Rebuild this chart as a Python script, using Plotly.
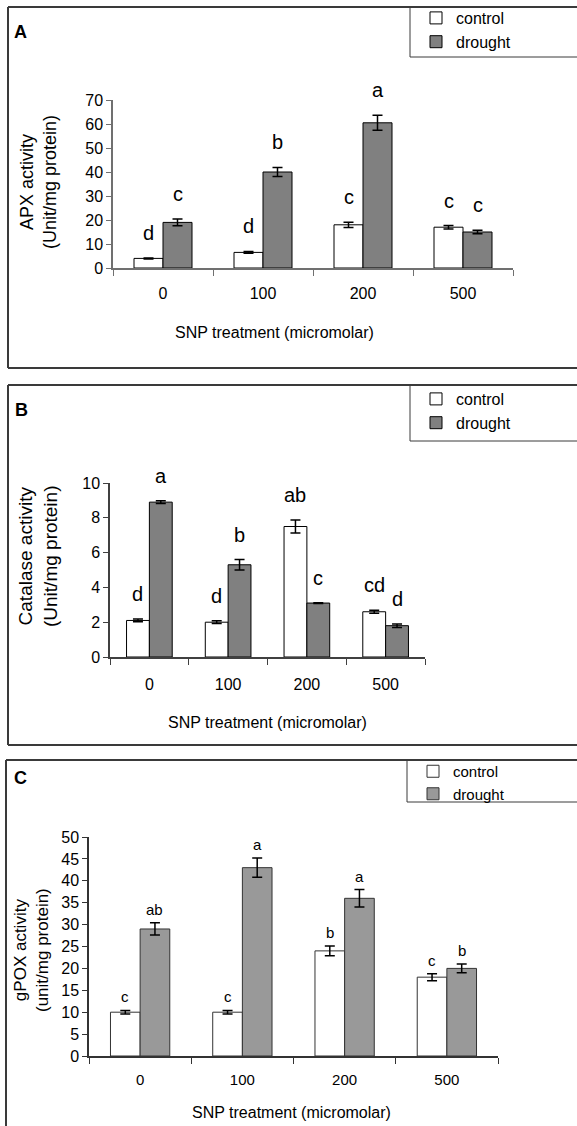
import plotly.graph_objects as go

# ---------------- data ----------------
categories = ["0", "100", "200", "500"]
series_names = ["control", "drought"]

apx_control = [4.0, 6.5, 18.0, 17.0]
apx_control_err = [0.2, 0.4, 1.1, 0.7]
apx_drought = [19.0, 40.0, 60.5, 15.0]
apx_drought_err = [1.4, 1.9, 3.1, 0.7]
apx_control_letters = ["d", "d", "c", "c"]
apx_drought_letters = ["c", "b", "a", "c"]

cat_control = [2.1, 2.0, 7.5, 2.6]
cat_control_err = [0.08, 0.08, 0.38, 0.08]
cat_drought = [8.9, 5.3, 3.1, 1.8]
cat_drought_err = [0.08, 0.3, 0.02, 0.1]
cat_control_letters = ["d", "d", "ab", "cd"]
cat_drought_letters = ["a", "b", "c", "d"]

gpox_control = [10.0, 10.0, 24.0, 18.0]
gpox_control_err = [0.4, 0.4, 1.1, 0.8]
gpox_drought = [29.0, 43.0, 36.0, 20.0]
gpox_drought_err = [1.4, 2.2, 2.0, 1.0]
gpox_control_letters = ["c", "c", "b", "c"]
gpox_drought_letters = ["ab", "a", "a", "b"]

x_title = "SNP treatment (micromolar)"

# ---------------- layout helpers ----------------
W, H = 577, 1126
FONT = "Liberation Sans, Arial, sans-serif"
BARGAP = 0.42


def fx(p):
    return p / W


def fy(p):
    return 1 - p / H


panels = [
    dict(label="A", ctrl=apx_control, ctrl_err=apx_control_err, dr=apx_drought, dr_err=apx_drought_err,
         ctrl_let=apx_control_letters, dr_let=apx_drought_letters,
         ytitle="APX activity<br>(Unit/mg protein)", yrange=[0, 70], dtick=10,
         xpx=(113, 513), ypx=(268, 100), dr_color="#808080", line_color="#000000", axis_color="#707070",
         let_font=20, let_shift=12, ytitle_pos=(38, 182), ytitle_font=18, xtitle_pos=(274, 333),
         box=(8, 7, 368), legbox=(410, 7, 57), lab_pos=(12, 32), leg_pos=(416, 1), leg_font=16,
         tick_font=16, xtick_font=16, xstand=10),
    dict(label="B", ctrl=cat_control, ctrl_err=cat_control_err, dr=cat_drought, dr_err=cat_drought_err,
         ctrl_let=cat_control_letters, dr_let=cat_drought_letters,
         ytitle="Catalase activity<br>(Unit/mg protein)", yrange=[0, 10], dtick=2,
         xpx=(110, 425), ypx=(657, 483), dr_color="#808080", line_color="#000000", axis_color="#404040",
         let_font=20, let_shift=12, ytitle_pos=(38, 556), ytitle_font=19, xtitle_pos=(267, 722),
         box=(8, 385, 745), legbox=(410, 385, 441), lab_pos=(13, 410), leg_pos=(416, 382), leg_font=16,
         tick_font=16, xtick_font=16, xstand=12),
    dict(label="C", ctrl=gpox_control, ctrl_err=gpox_control_err, dr=gpox_drought, dr_err=gpox_drought_err,
         ctrl_let=gpox_control_letters, dr_let=gpox_drought_letters,
         ytitle="gPOX activity<br>(unit/mg protein)", yrange=[0, 50], dtick=5,
         xpx=(89, 498), ypx=(1056, 837), dr_color="#999999", line_color="#333333", axis_color="#333333",
         let_font=15, let_shift=3, ytitle_pos=(31, 950), ytitle_font=17, xtitle_pos=(292, 1112),
         box=(6, 760, 1140), legbox=(407, 760, 802), lab_pos=(12, 778), leg_pos=(413, 755), leg_font=15,
         tick_font=16, xtick_font=15, xstand=9),
]

fig = go.Figure()
annotations = []
shapes = []
layout_extra = {}


def hline(x0, x1, y, width, color):
    return dict(type="line", xref="paper", yref="paper", x0=fx(x0), x1=fx(x1), y0=fy(y), y1=fy(y),
                line=dict(color=color, width=width))


def vline(x, y0, y1, width, color):
    return dict(type="line", xref="paper", yref="paper", x0=fx(x), x1=fx(x), y0=fy(y0), y1=fy(y1),
                line=dict(color=color, width=width))


for i, p in enumerate(panels):
    n = "" if i == 0 else str(i + 1)
    xa, ya = "x" + n, "y" + n
    leg = "legend" + n
    for name, vals, errs, color in [
        (series_names[0], p["ctrl"], p["ctrl_err"], "#ffffff"),
        (series_names[1], p["dr"], p["dr_err"], p["dr_color"]),
    ]:
        fig.add_trace(go.Bar(
            x=categories, y=vals, name=name, xaxis=xa, yaxis=ya, legend=leg,
            marker=dict(color=color, line=dict(color=p["line_color"], width=1)),
            error_y=dict(type="data", array=errs, color="#000000", thickness=1.5, width=5),
            showlegend=True,
        ))

    layout_extra["xaxis" + n] = dict(
        domain=[fx(p["xpx"][0]), fx(p["xpx"][1])], anchor=ya, type="category",
        range=[-0.5, 3.5], showline=True, linecolor=p["axis_color"], linewidth=1.5,
        ticks="outside", tickson="boundaries", ticklen=6, tickcolor=p["axis_color"], tickwidth=1,
        showgrid=False, zeroline=False, ticklabelstandoff=p["xstand"],
        tickfont=dict(family=FONT, size=p["xtick_font"], color="#000000"),
    )
    layout_extra["yaxis" + n] = dict(
        domain=[fy(p["ypx"][0]), fy(p["ypx"][1])], anchor=xa, range=p["yrange"], dtick=p["dtick"],
        showline=True, linecolor=p["axis_color"], linewidth=1.5, ticks="outside", ticklen=5,
        tickcolor=p["axis_color"], tickwidth=1, showgrid=False, zeroline=False,
        tickfont=dict(family=FONT, size=p["tick_font"], color="#000000"),
    )
    layout_extra[leg] = dict(
        x=fx(p["leg_pos"][0]), y=fy(p["leg_pos"][1]), xanchor="left", yanchor="top",
        bgcolor="rgba(0,0,0,0)", borderwidth=0, traceorder="normal",
        font=dict(family=FONT, size=p["leg_font"], color="#000000"), tracegroupgap=0,
    )

    # significance letters above bars (+ error bar)
    off = (1 - BARGAP) / 4
    for j in range(len(categories)):
        for sgn, vals, errs, lets in [(-1, p["ctrl"], p["ctrl_err"], p["ctrl_let"]),
                                      (1, p["dr"], p["dr_err"], p["dr_let"])]:
            annotations.append(dict(
                x=j + sgn * off, y=vals[j] + errs[j], xref=xa, yref=ya, text=lets[j],
                showarrow=False, yanchor="bottom", yshift=p["let_shift"],
                font=dict(family=FONT, size=p["let_font"], color="#000000"),
            ))

    # axis titles
    annotations.append(dict(
        x=fx(p["ytitle_pos"][0]), y=fy(p["ytitle_pos"][1]), xref="paper", yref="paper",
        text=p["ytitle"], textangle=-90, showarrow=False, xanchor="center", yanchor="middle",
        font=dict(family=FONT, size=p["ytitle_font"], color="#000000"),
    ))
    annotations.append(dict(
        x=fx(p["xtitle_pos"][0]), y=fy(p["xtitle_pos"][1]), xref="paper", yref="paper",
        text=x_title, showarrow=False, xanchor="center", yanchor="middle",
        font=dict(family=FONT, size=16, color="#000000"),
    ))
    # panel label
    annotations.append(dict(
        x=fx(p["lab_pos"][0]), y=fy(p["lab_pos"][1]), xref="paper", yref="paper",
        text="<b>" + p["label"] + "</b>", showarrow=False, xanchor="left", yanchor="middle",
        font=dict(family=FONT, size=18, color="#000000"),
    ))
    # outer panel frame (right side lies beyond the picture)
    bx0, by0, by1 = p["box"]
    shapes.append(hline(bx0, W + 10, by0, 2, "#3a3a3a"))
    shapes.append(hline(bx0, W + 10, by1, 2, "#3a3a3a"))
    shapes.append(vline(bx0, by0, by1, 2, "#3a3a3a"))
    # legend frame
    lx0, ly0, ly1 = p["legbox"]
    shapes.append(vline(lx0, ly0, ly1, 1, "#3a3a3a"))
    shapes.append(hline(lx0, W + 10, ly1, 1, "#3a3a3a"))

fig.update_layout(
    width=W, height=H, margin=dict(l=0, r=0, t=0, b=0, autoexpand=False),
    paper_bgcolor="#ffffff", plot_bgcolor="rgba(0,0,0,0)",
    barmode="group", bargap=BARGAP, bargroupgap=0,
    annotations=annotations, shapes=shapes,
    font=dict(family=FONT, color="#000000"),
    **layout_extra,
)

fig.write_html("out.html", config={"displayModeBar": False},
               post_script="document.body.style.margin='0px';")
